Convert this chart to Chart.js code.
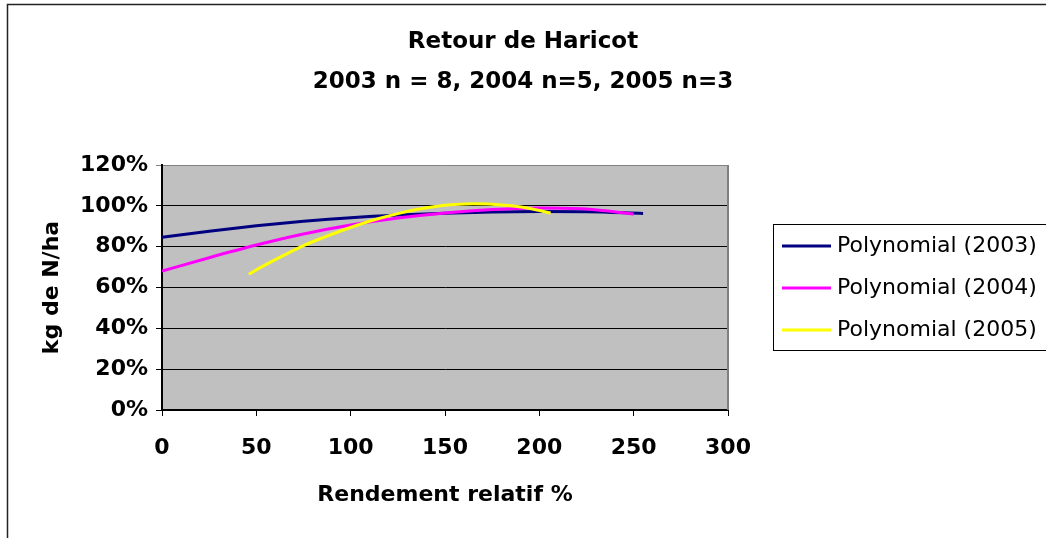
<!DOCTYPE html>
<html>
<head>
<meta charset="utf-8">
<script src="https://cdn.jsdelivr.net/npm/chart.js@4"></script>
<style>
  html, body { margin: 0; padding: 0; background: #fff; }
  #wrap { width: 1046px; height: 538px; }
</style>
</head>
<body>
<div id="wrap"><canvas id="myChart" width="1046" height="538"></canvas></div>
<script>
// values (x = rendement relatif %, y = % )
var x2003 = [0, 25, 50, 75, 100, 125, 150, 175, 200, 225, 255];
var y2003 = [84.6, 87.6, 90.2, 92.4, 94.2, 95.5, 96.4, 97.0, 97.2, 97.1, 96.3];

var x2004 = [0, 25, 50, 75, 100, 125, 150, 175, 200, 225, 250];
var y2004 = [68.0, 74.6, 80.8, 86.2, 90.6, 94.0, 96.5, 98.2, 99.0, 98.5, 96.0];

var x2005 = [46, 55, 65, 75, 85, 95, 105, 115, 125, 135, 145, 155, 165, 175, 185, 195, 206];
var y2005 = [66.5, 71.2, 76.0, 80.5, 84.3, 87.8, 91.0, 93.8, 96.2, 98.2, 99.7, 100.6, 101.0, 100.8, 100.0, 98.7, 96.5];

var seriesLabels = ['Polynomial (2003)', 'Polynomial (2004)', 'Polynomial (2005)'];
var titleLines = ['Retour de Haricot', '2003 n = 8, 2004 n=5, 2005 n=3'];
var xTitle = 'Rendement relatif %';
var yTitle = 'kg de N/ha';

function toPoints(xs, ys) {
  var pts = [];
  for (let i = 0; i < xs.length; ++i) {
    pts.push({x: xs[i], y: ys[i]});
  }
  return pts;
}

var FONT = '"DejaVu Sans", Arial, sans-serif';

// grey plot area + outer frame
var background = {
  id: 'background',
  beforeDraw: function(chart) {
    var ctx = chart.ctx;
    var a = chart.chartArea;
    ctx.save();
    ctx.fillStyle = '#c0c0c0';
    ctx.fillRect(a.left, a.top, a.right - a.left, a.bottom - a.top);
    ctx.restore();
  },
  afterDraw: function(chart) {
    var ctx = chart.ctx;
    var a = chart.chartArea;
    ctx.save();
    // right edge of plot
    ctx.strokeStyle = '#808080';
    ctx.lineWidth = 2;
    ctx.beginPath();
    ctx.moveTo(a.right, a.top);
    ctx.lineTo(a.right, a.bottom);
    ctx.stroke();
    // outer frame (left + top)
    ctx.strokeStyle = '#222';
    ctx.lineWidth = 1.5;
    ctx.beginPath();
    ctx.moveTo(7.5, 538);
    ctx.lineTo(7.5, 4.5);
    ctx.lineTo(1046, 4.5);
    ctx.stroke();
    ctx.restore();
  }
};

// legend in a framed box on the right
var legendBox = {
  id: 'legendBox',
  afterDraw: function(chart) {
    var ctx = chart.ctx;
    ctx.save();
    ctx.strokeStyle = '#000';
    ctx.lineWidth = 1;
    ctx.strokeRect(773.5, 224.5, 300, 126);
    chart.data.datasets.forEach(function(ds, i) {
      var y = 246 + i * 42;
      ctx.strokeStyle = ds.borderColor;
      ctx.lineWidth = 3;
      ctx.beginPath();
      ctx.moveTo(782, y);
      ctx.lineTo(831, y);
      ctx.stroke();
      ctx.fillStyle = '#000';
      ctx.font = '22px ' + FONT;
      ctx.textBaseline = 'middle';
      ctx.textAlign = 'left';
      ctx.fillText(ds.label, 837, y);
    });
    ctx.restore();
  }
};

var ctx = document.getElementById('myChart').getContext('2d');
new Chart(ctx, {
  type: 'scatter',
  data: {
    datasets: [{
      label: seriesLabels[0],
      data: toPoints(x2003, y2003),
      borderColor: '#000080',
      order: 2
    }, {
      label: seriesLabels[1],
      data: toPoints(x2004, y2004),
      borderColor: '#ff00ff',
      order: 1
    }, {
      label: seriesLabels[2],
      data: toPoints(x2005, y2005),
      borderColor: '#ffff00',
      order: 0
    }]
  },
  options: {
    responsive: false,
    animation: false,
    layout: { padding: 0 },
    elements: {
      line: { borderWidth: 3, tension: 0.4, cubicInterpolationMode: 'monotone', fill: false },
      point: { radius: 0, hoverRadius: 0 }
    },
    datasets: { scatter: { showLine: true } },
    plugins: {
      legend: { display: false },
      tooltip: { enabled: false },
      title: {
        display: true,
        text: titleLines,
        color: '#000',
        font: { family: FONT, size: 23, weight: 'bold', lineHeight: 40 / 23 },
        padding: { top: 22, bottom: 63 }
      }
    },
    scales: {
      x: {
        type: 'linear',
        min: 0,
        max: 300,
        ticks: { stepSize: 50, color: '#000', padding: 19, font: { family: FONT, size: 22, weight: 'bold' } },
        grid: { drawOnChartArea: false, drawTicks: true, tickLength: 6, color: '#000' },
        border: { display: true, color: '#000', width: 2 },
        title: {
          display: true,
          text: xTitle,
          color: '#000',
          font: { family: FONT, size: 22, weight: 'bold' },
          padding: { top: 0, bottom: 30 }
        },
        afterFit: function(scale) { scale.height = 128; }
      },
      y: {
        type: 'linear',
        min: 0,
        max: 120,
        ticks: {
          stepSize: 20,
          color: '#000',
          padding: 8,
          font: { family: FONT, size: 22, weight: 'bold' },
          callback: function(v) { return v + '%'; }
        },
        grid: {
          tickLength: 6,
          lineWidth: 1,
          color: function(c) { return c.tick && c.tick.value === 120 ? '#808080' : '#000'; }
        },
        border: { display: true, color: '#000', width: 2 },
        title: {
          display: true,
          text: yTitle,
          color: '#000',
          font: { family: FONT, size: 22, weight: 'bold' },
          padding: { top: 39, bottom: 0 }
        },
        afterFit: function(scale) { scale.width = 162; }
      },
      // empty right-hand box that keeps room for the legend
      yRight: {
        type: 'linear',
        position: 'right',
        min: 0,
        max: 120,
        ticks: { display: false },
        grid: { display: false, drawTicks: false },
        border: { display: false },
        afterFit: function(scale) { scale.width = 318; }
      }
    }
  },
  plugins: [background, legendBox]
});
</script>
</body>
</html>
